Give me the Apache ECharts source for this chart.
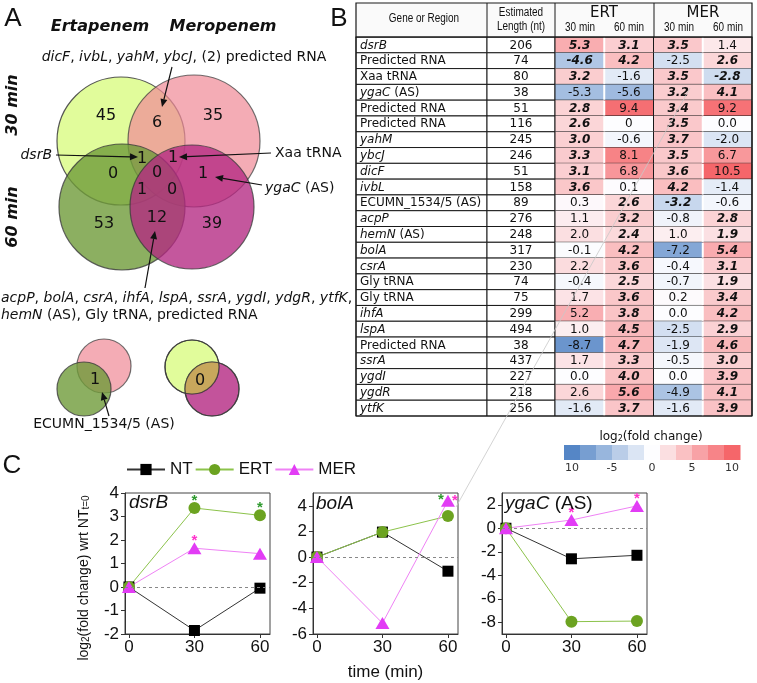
<!DOCTYPE html>
<html><head><meta charset="utf-8">
<script src="https://cdn.jsdelivr.net/npm/echarts@6/dist/echarts.min.js"></script>
<style>html,body{margin:0;padding:0;background:#fff}#c{width:757px;height:683px}</style>
</head><body><div id="c"></div>
<script>
// ---------- Panel B table data ----------
const genes = ['dsrB','Predicted RNA','Xaa tRNA','ygaC (AS)','Predicted RNA','Predicted RNA','yahM','ybcJ','dicF','ivbL','ECUMN_1534/5 (AS)','acpP','hemN (AS)','bolA','csrA','Gly tRNA','Gly tRNA','ihfA','lspA','Predicted RNA','ssrA','ygdI','ygdR','ytfK'];
const geneItalic = [1,0,0,1,0,0,1,1,1,1,0,1,1,1,1,0,0,1,1,0,1,1,1,1];
const lengths = [206,74,80,38,51,116,245,246,51,158,89,276,248,317,230,74,75,299,494,38,437,227,218,256];
const ert30 = ['5.3','-4.6','3.2','-5.3','2.8','2.6','3.0','3.3','3.1','3.6','0.3','1.1','2.0','-0.1','2.2','-0.4','1.7','5.2','1.0','-8.7','1.7','0.0','2.6','-1.6'];
const ert30Sig = [1,1,1,0,1,1,1,1,1,1,0,0,0,0,0,0,0,0,0,0,0,0,0,0];
const ert60 = ['3.1','4.2','-1.6','-5.6','9.4','0','-0.6','8.1','6.8','0.1','2.6','3.2','2.4','4.2','3.6','2.5','3.6','3.8','4.5','4.7','3.3','4.0','5.6','3.7'];
const ert60Sig = [1,1,0,0,0,0,0,0,0,0,1,1,1,1,1,1,1,1,1,1,1,1,1,1];
const mer30 = ['3.5','-2.5','3.5','3.2','3.4','3.5','3.7','3.5','3.6','4.2','-3.2','-0.8','1.0','-7.2','-0.4','-0.7','0.2','0.0','-2.5','-1.9','-0.5','0.0','-4.9','-1.6'];
const mer30Sig = [1,0,1,1,1,1,1,1,1,1,1,0,0,0,0,0,0,0,0,0,0,0,0,0];
const mer60 = ['1.4','2.6','-2.8','4.1','9.2','0.0','-2.0','6.7','10.5','-1.4','-0.6','2.8','1.9','5.4','3.1','1.9','3.4','4.2','2.9','4.6','3.0','3.9','4.1','3.9'];
const mer60Sig = [0,1,1,1,0,0,0,0,0,0,0,1,1,1,1,1,1,1,1,1,1,1,1,1];
const colHeads = ['30 min','60 min','30 min','60 min'];
// colour scale legend
const scaleSteps = [-10,-8,-6,-4,-2,0,2,4,6,8,10];
const scaleTicks = [-10,-5,0,5,10];
const scaleTickLabels = ['10','-5','0','5','10'];

// ---------- Panel A Venn counts ----------
const venn30 = [45, 6, 35];        // ERT only, both, MER only (30 min)
const venn60 = [53, 12, 39];       // ERT only, both, MER only (60 min)
const vennCross = [1, 1, 0, 0, 1, 1, 0];
const vennSmall = [1, 0];

// ---------- Panel C data ----------
const times = [0, 30, 60];
const dsrB_NT = [0, -1.85, -0.05], dsrB_ERT = [0, 3.36, 3.05], dsrB_MER = [0, 1.65, 1.42];
const bolA_NT = [0, 1.95, -1.1],  bolA_ERT = [0, 1.95, 3.2],  bolA_MER = [0, -5.15, 4.4];
const ygaC_NT = [0, -2.6, -2.3],  ygaC_ERT = [0, -7.95, -7.9], ygaC_MER = [0, 0.7, 1.9];
const dsrB_ERTsig = [0,1,1], dsrB_MERsig = [0,1,0];
const bolA_ERTsig = [0,0,1], bolA_MERsig = [0,0,1];
const ygaC_ERTsig = [0,0,0], ygaC_MERsig = [0,1,1];

// ================= build =================
const TF = 'DejaVu Sans';
const AF = 'Liberation Sans';

function cellRect(api, col, row) {
  const c = api.coord([col, row]); const s = api.size([1, 1]);
  return {x: c[0] - s[0] / 2, y: c[1] - s[1] / 2, w: s[0], h: s[1]};
}
function geneText(i) {
  const g = genes[i]; if (!geneItalic[i]) return g;
  const k = g.indexOf(' ');
  return k < 0 ? '{it|' + g + '}' : '{it|' + g.slice(0, k) + '}' + g.slice(k);
}
const rowIdx = genes.map((g, i) => i);
const valueCols = [ert30, ert60, mer30, mer60];
const sigCols = [ert30Sig, ert60Sig, mer30Sig, mer60Sig];
const cellData = [], cellLabels = [];
valueCols.forEach((col, c) => col.forEach((s, r) => { cellData.push([c, r, parseFloat(s), sigCols[c][r]]); cellLabels.push(s); }));

function hidden(gi, min, max, inv) {
  return {type: 'value', gridIndex: gi, min, max, inverse: !!inv, show: false};
}
const xAxes = [hidden(0, -0.5, 0.5), hidden(1, -0.5, 0.5), hidden(2, -0.5, 3.5),
  {type: 'value', gridIndex: 3, min: -11, max: 11, axisLine: {show: false}, axisTick: {show: false}, splitLine: {show: false},
   axisLabel: {customValues: scaleTicks, formatter: v => scaleTickLabels[scaleTicks.indexOf(v)], fontSize: 11, fontFamily: TF, color: '#333', margin: 3}}];
const yAxes = [hidden(0, -0.5, 23.5, true), hidden(1, -0.5, 23.5, true), hidden(2, -0.5, 23.5, true), hidden(3, -0.5, 0.5)];

const charts = [
  {name: 'dsrB', ymin: -2, ymax: 4, yt: [-2,-1,0,1,2,3,4], left: 125, nt: dsrB_NT, ert: dsrB_ERT, mer: dsrB_MER, es: dsrB_ERTsig, ms: dsrB_MERsig},
  {name: 'bolA', ymin: -6, ymax: 5, yt: [-6,-4,-2,0,2,4], left: 313, nt: bolA_NT, ert: bolA_ERT, mer: bolA_MER, es: bolA_ERTsig, ms: bolA_MERsig},
  {name: 'ygaC', ymin: -9, ymax: 3, yt: [-8,-6,-4,-2,0,2], left: 502, nt: ygaC_NT, ert: ygaC_ERT, mer: ygaC_MER, es: ygaC_ERTsig, ms: ygaC_MERsig}
];
const grids = [
  {left: 356, top: 37, width: 131, height: 379},
  {left: 487, top: 37, width: 68, height: 379},
  {left: 555, top: 37, width: 197, height: 379},
  {left: 564, top: 445, width: 176, height: 15}
];
charts.forEach((ch, k) => {
  const gi = 4 + k;
  grids.push({left: ch.left, top: 493, width: 145, height: 141, show: true, borderColor: '#444', borderWidth: 1, backgroundColor: 'transparent'});
  xAxes.push({type: 'value', gridIndex: gi, min: -1.8, max: 64.6,
    axisLine: {onZero: false, lineStyle: {color: '#333'}},
    axisTick: {customValues: times, length: 4, lineStyle: {color: '#333'}},
    axisLabel: {customValues: times, fontSize: 17, fontFamily: AF, color: '#111', margin: 5},
    splitLine: {show: false},
    name: k === 1 ? 'time (min)' : '', nameLocation: 'middle', nameGap: 30,
    nameTextStyle: {fontSize: 17, fontFamily: AF, color: '#111'}});
  yAxes.push({type: 'value', gridIndex: gi, min: ch.ymin, max: ch.ymax,
    axisLine: {onZero: false, lineStyle: {color: '#333'}},
    axisTick: {customValues: ch.yt, length: 4, lineStyle: {color: '#333'}},
    axisLabel: {customValues: ch.yt, fontSize: 17, fontFamily: AF, color: '#111', margin: 6},
    splitLine: {show: false}});
});

const series = [];
// gene column
series.push({type: 'custom', xAxisIndex: 0, yAxisIndex: 0, data: rowIdx.map(i => [0, i]), silent: true,
  renderItem: (p, api) => {
    const r = cellRect(api, 0, api.value(1)); const i = p.dataIndex;
    return {type: 'group', children: [
      {type: 'rect', shape: {x: r.x, y: r.y, width: r.w, height: r.h}, style: {fill: '#fff', stroke: '#1a1a1a', lineWidth: 1}},
      {type: 'text', style: {x: r.x + 4, y: r.y + r.h / 2 + 0.5, text: geneText(i), align: 'left', verticalAlign: 'middle', fontSize: 12, fontFamily: TF, fill: '#111',
        rich: {it: {fontStyle: 'italic', fontSize: 12, fontFamily: TF, fill: '#111'}}}}
    ]};
  }});
// length column
series.push({type: 'custom', xAxisIndex: 1, yAxisIndex: 1, data: rowIdx.map(i => [0, i]), silent: true,
  renderItem: (p, api) => {
    const r = cellRect(api, 0, api.value(1));
    return {type: 'group', children: [
      {type: 'rect', shape: {x: r.x, y: r.y, width: r.w, height: r.h}, style: {fill: '#fff', stroke: '#1a1a1a', lineWidth: 1}},
      {type: 'text', style: {x: r.x + r.w / 2, y: r.y + r.h / 2 + 0.5, text: String(lengths[p.dataIndex]), align: 'center', verticalAlign: 'middle', fontSize: 12, fontFamily: TF, fill: '#111'}}
    ]};
  }});
// value cells
series.push({type: 'custom', xAxisIndex: 2, yAxisIndex: 2, data: cellData, silent: true,
  renderItem: (p, api) => {
    const col = api.value(0), row = api.value(1); const r = cellRect(api, col, row);
    const bold = api.value(3) === 1;
    const ch = [
      {type: 'rect', shape: {x: r.x, y: r.y, width: r.w, height: r.h}, style: {fill: api.visual('color')}},
      {type: 'line', shape: {x1: r.x, y1: r.y + r.h, x2: r.x + r.w, y2: r.y + r.h}, style: {stroke: '#1a1a1a', lineWidth: 1}}
    ];
    if (row === 0) ch.push({type: 'line', shape: {x1: r.x, y1: r.y, x2: r.x + r.w, y2: r.y}, style: {stroke: '#1a1a1a', lineWidth: 1}});
    if (col === 0 || col === 2) ch.push({type: 'line', shape: {x1: r.x, y1: r.y, x2: r.x, y2: r.y + r.h}, style: {stroke: '#1a1a1a', lineWidth: 1}});
    if (col === 1 || col === 3) ch.push({type: 'line', shape: {x1: r.x, y1: r.y + 0.5, x2: r.x, y2: r.y + r.h - 0.5}, style: {stroke: '#fff', lineWidth: 2}});
    if (col === 3) ch.push({type: 'line', shape: {x1: r.x + r.w, y1: r.y, x2: r.x + r.w, y2: r.y + r.h}, style: {stroke: '#1a1a1a', lineWidth: 1.2}});
    ch.push({type: 'text', style: {x: r.x + r.w / 2, y: r.y + r.h / 2 + 0.5, text: cellLabels[p.dataIndex], align: 'center', verticalAlign: 'middle',
      fontSize: 12, fontFamily: TF, fontStyle: bold ? 'italic' : 'normal', fontWeight: bold ? 'bold' : 'normal', fill: '#111'}});
    return {type: 'group', children: ch};
  }});
// colour scale legend
series.push({type: 'custom', xAxisIndex: 3, yAxisIndex: 3, data: scaleSteps.map(v => [v, 0, v]), silent: true,
  renderItem: (p, api) => {
    const c = api.coord([api.value(0) - 1, 0.5]); const s = api.size([2, 1]);
    return {type: 'rect', shape: {x: c[0], y: c[1], width: s[0] + 0.5, height: s[1]}, style: {fill: api.visual('color')}};
  }});

// line charts
const styles = {
  NT: {color: '#000', line: '#333', symbol: 'rect', size: 11},
  ERT: {color: '#6ca321', line: '#8cc34b', symbol: 'circle', size: 12},
  MER: {color: '#e23cf5', line: '#ef82f5', symbol: 'triangle', size: [14, 12]}
};
const starOffset = {bolA: {ERT: [-7, -16], MER: [7, 0]}};
function mkLine(name, gi, vals, sig, chName) {
  const st = styles[name];
  const starColor = name === 'ERT' ? '#2e9a2e' : '#ff33cc';
  return {type: 'line', name, xAxisIndex: gi, yAxisIndex: gi, symbol: st.symbol, symbolSize: st.size,
    itemStyle: {color: st.color}, lineStyle: {color: st.line, width: 1}, silent: true,
    data: times.map((t, k) => {
      const d = {value: [t, vals[k]]};
      if (sig && sig[k]) {
        const off = (starOffset[chName] && starOffset[chName][name] && k === 2) ? starOffset[chName][name] : [0, -7];
        d.label = {show: true, formatter: '*', position: 'inside', offset: off, color: starColor, fontSize: 15, fontWeight: 'bold', fontFamily: AF};
      }
      return d;
    }),
    markLine: name === 'NT' ? {silent: true, symbol: 'none', label: {show: false}, lineStyle: {type: [3, 3], color: '#888', width: 1}, data: [{yAxis: 0}]} : undefined
  };
}
charts.forEach((ch, k) => {
  const gi = 4 + k;
  series.push(mkLine('NT', gi, ch.nt, null, ch.name));
  series.push(mkLine('ERT', gi, ch.ert, ch.es, ch.name));
  series.push(mkLine('MER', gi, ch.mer, ch.ms, ch.name));
});

// ---------- graphics (Venn, headers, texts) ----------
const G = [];
function txt(x, y, text, o) {
  o = o || {};
  G.push({type: 'text', x, y, rotation: o.rot || 0, scaleX: o.sx || 1, z: 50, style: Object.assign({text, fill: '#111', fontSize: o.fs || 14, fontFamily: o.ff || TF,
    fontStyle: o.it ? 'italic' : 'normal', fontWeight: o.b ? 'bold' : 'normal', align: o.al || 'center', verticalAlign: o.va || 'middle',
    rich: {it: {fontStyle: 'italic', fontSize: o.fs || 14, fontFamily: o.ff || TF, fill: '#111'},
           sub: {fontSize: o.sfs || 10, fontFamily: o.ff || TF, fill: '#111', verticalAlign: 'bottom', lineHeight: 10}}}, o.style || {})});
}
function circ(cx, cy, r, fill, op) {
  G.push({type: 'circle', shape: {cx, cy, r}, z: 5, style: {fill, opacity: op, stroke: '#3a3a3a', lineWidth: 1.2}});
}
function ring(cx, cy, r, op) {
  G.push({type: 'circle', shape: {cx, cy, r}, z: 7, style: {fill: 'none', opacity: op, stroke: '#3a3a3a', lineWidth: 1.2}});
}
// overlap lens of two circles, as a polygon
function lens(c1x, c1y, r1, c2x, c2y, r2, fill) {
  const dx = c2x - c1x, dy = c2y - c1y, d = Math.hypot(dx, dy);
  const a = (r1 * r1 - r2 * r2 + d * d) / (2 * d);
  const al1 = Math.acos(a / r1), al2 = Math.acos((d - a) / r2);
  const f12 = Math.atan2(dy, dx), f21 = f12 + Math.PI;
  const pts = [], N = 40;
  for (let i = 0; i <= N; i++) { const t = f12 - al1 + 2 * al1 * i / N; pts.push([c1x + r1 * Math.cos(t), c1y + r1 * Math.sin(t)]); }
  for (let i = 0; i <= N; i++) { const t = f21 - al2 + 2 * al2 * i / N; pts.push([c2x + r2 * Math.cos(t), c2y + r2 * Math.sin(t)]); }
  G.push({type: 'polygon', z: 6, shape: {points: pts}, style: {fill}});
}
function arrow(x1, y1, x2, y2) {
  const a = Math.atan2(y2 - y1, x2 - x1), L = 8, W = 3.5;
  const bx = x2 - L * Math.cos(a), by = y2 - L * Math.sin(a);
  G.push({type: 'line', z: 40, shape: {x1, y1, x2: bx, y2: by}, style: {stroke: '#111', lineWidth: 1.2}});
  G.push({type: 'polygon', z: 40, shape: {points: [[x2, y2], [bx + W * Math.sin(a), by - W * Math.cos(a)], [bx - W * Math.sin(a), by + W * Math.cos(a)]]}, style: {fill: '#111'}});
}
const cYellow = '#dcfb8a', cPink = '#f08c98', cGreen = '#6f9b3a', cMag = '#b42882';
// big Venn
circ(121, 141, 64, cYellow, 0.85);
circ(194, 141, 66, cPink, 0.72);
circ(122, 207, 63, cGreen, 0.8);
circ(192, 207, 62, cMag, 0.78);
// small Venns
circ(104, 366, 27, cPink, 0.72);
circ(84, 389, 27, cGreen, 0.8);
circ(192, 367, 27, cYellow, 0.85);
circ(212, 389, 27, cMag, 0.8);
lens(192, 367, 27, 212, 389, 27, '#c8a75c');
ring(192, 367, 27, 0.85);
ring(212, 389, 27, 0.8);

// panel letters
txt(13, 19, 'A', {fs: 26, ff: AF});
txt(339, 19, 'B', {fs: 26, ff: AF});
txt(12, 466, 'C', {fs: 26, ff: AF});
// Venn titles
txt(100, 27, 'Ertapenem', {fs: 16, it: true, b: true});
txt(223, 27, 'Meropenem', {fs: 16, it: true, b: true});
txt(13, 105, '30 min', {fs: 16, it: true, b: true, rot: Math.PI / 2});
txt(13, 217, '60 min', {fs: 16, it: true, b: true, rot: Math.PI / 2});
// Venn counts
txt(106, 116, String(venn30[0]), {fs: 16});
txt(157, 123, String(venn30[1]), {fs: 16});
txt(213, 116, String(venn30[2]), {fs: 16});
txt(142, 159, String(vennCross[0]), {fs: 16});
txt(173, 158, String(vennCross[1]), {fs: 16});
txt(113, 174, String(vennCross[2]), {fs: 16});
txt(157, 173, String(vennCross[3]), {fs: 16});
txt(203, 174, String(vennCross[4]), {fs: 16});
txt(142, 190, String(vennCross[5]), {fs: 16});
txt(172, 190, String(vennCross[6]), {fs: 16});
txt(104, 224, String(venn60[0]), {fs: 16});
txt(157, 218, String(venn60[1]), {fs: 16});
txt(212, 224, String(venn60[2]), {fs: 16});
txt(95, 380, String(vennSmall[0]), {fs: 16});
txt(200, 381, String(vennSmall[1]), {fs: 16});
// Venn annotations
txt(184, 57, '{it|dicF}, {it|ivbL}, {it|yahM}, {it|ybcJ}, (2) predicted RNA');
arrow(172, 67, 162, 107);
txt(52, 155, 'dsrB', {al: 'right', it: true});
arrow(56, 155, 138, 157);
txt(275, 153, 'Xaa tRNA', {al: 'left'});
arrow(271, 153, 179, 157);
txt(265, 188, '{it|ygaC} (AS)', {al: 'left'});
arrow(262, 185, 215, 177);
arrow(145, 288, 155, 231);
txt(1, 298, '{it|acpP}, {it|bolA}, {it|csrA}, {it|ihfA}, {it|lspA}, {it|ssrA}, {it|ygdI}, {it|ydgR}, {it|ytfK},', {al: 'left'});
txt(1, 315, '{it|hemN} (AS), Gly tRNA, predicted RNA', {al: 'left'});
txt(104, 424, 'ECUMN_1534/5 (AS)');
arrow(109, 416, 102, 392);

// table header
G.push({type: 'rect', z: 10, shape: {x: 356, y: 3, width: 396, height: 34}, style: {fill: '#fafafa', stroke: '#1a1a1a', lineWidth: 1.2}});
[487, 555, 654].forEach(x => G.push({type: 'line', z: 11, shape: {x1: x, y1: 3, x2: x, y2: 37}, style: {stroke: '#1a1a1a', lineWidth: 1}}));
G.push({type: 'rect', z: 11, shape: {x: 356, y: 37, width: 396, height: 379}, style: {fill: 'none', stroke: '#1a1a1a', lineWidth: 1.2}});
txt(424, 19, 'Gene or Region', {fs: 12, ff: AF, sx: 0.83});
txt(521, 13, 'Estimated', {fs: 12, ff: AF, sx: 0.83});
txt(521, 27, 'Length (nt)', {fs: 12, ff: AF, sx: 0.83});
txt(604, 13, 'ERT', {fs: 15});
txt(703, 13, 'MER', {fs: 15});
[580, 629, 679, 728].forEach((x, i) => txt(x, 28, colHeads[i], {fs: 12, ff: AF, sx: 0.83}));
// colour legend title
txt(651, 437, 'log{sub|2}(fold change)', {fs: 12, sfs: 8});
// panel C titles
txt(129, 503, 'dsrB', {al: 'left', it: true, fs: 19, ff: AF});
txt(316, 504, 'bolA', {al: 'left', it: true, fs: 19, ff: AF});
txt(505, 504, '{it|ygaC} (AS)', {al: 'left', fs: 19, ff: AF});
txt(84, 578, 'log{sub|2}(fold change) wrt NT{sub|t=0}', {fs: 14, ff: AF, sfs: 10, rot: Math.PI / 2});
// faint guide line
G.push({type: 'line', z: 60, shape: {x1: 690, y1: 88, x2: 456, y2: 507}, style: {stroke: '#c8c8c8', lineWidth: 0.8}});

const option = {
  animation: false,
  backgroundColor: '#fff',
  grid: grids,
  xAxis: xAxes,
  yAxis: yAxes,
  visualMap: {type: 'continuous', min: -10, max: 10, dimension: 2, seriesIndex: [2, 3], show: false,
    inRange: {color: ['#5586c6', '#fdfdff', '#f5666a']}},
  legend: {data: ['NT', 'ERT', 'MER'], left: 121, top: 456, itemWidth: 38, itemHeight: 14, itemGap: 2,
    textStyle: {fontSize: 17, fontFamily: AF, color: '#111'}},
  graphic: {elements: G},
  series
};
const chart = echarts.init(document.getElementById('c'));
chart.setOption(option);
</script></body></html>
